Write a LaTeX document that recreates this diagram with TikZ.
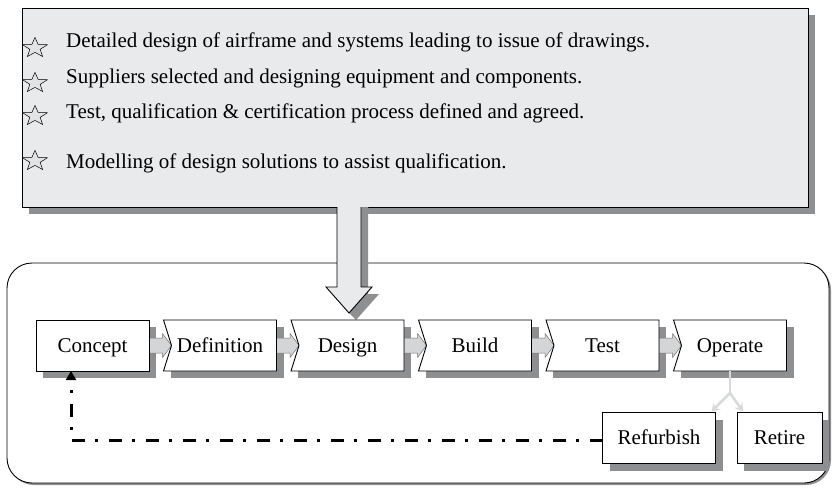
\documentclass[tikz,border=0pt]{standalone}
\usepackage{fontspec}
\setmainfont{Liberation Serif}
\usetikzlibrary{arrows.meta,calc}
\definecolor{shadowc}{HTML}{8E8F91}
\definecolor{panelc}{HTML}{E9EAEC}
\definecolor{conc}{HTML}{D4D5D7}
\definecolor{splitc}{HTML}{D8D9DA}
\definecolor{starc}{HTML}{E2E3E5}
\pgfdeclarelayer{frame}
\pgfdeclarelayer{shadows}
\pgfdeclarelayer{links}
\pgfdeclarelayer{boxes}
\pgfsetlayers{frame,shadows,links,boxes,main}
\begin{document}
\begin{tikzpicture}[x=1pt,y=-1pt,
 stage/.style={minimum width=113pt, minimum height=51pt, inner sep=0pt, outer sep=0pt, text height=17pt, text depth=4pt, font=\fontsize{21}{25}\selectfont},
 boxline/.style={draw=black, line width=0.9pt, fill=white, line join=miter},
 bullet/.style={anchor=base west, font=\fontsize{21}{25}\selectfont, inner sep=0pt},
 starsty/.style={draw=black, line width=0.5pt, fill=starc, line join=miter},
 link/.style={draw=black!55, line width=0.5pt, fill=conc},
 splitline/.style={draw=splitc, line width=2.5pt},
 splithead/.style={splitline, -{Stealth[length=8pt,width=10pt,inset=3pt]}},
 feedback/.style={line width=3pt, dash pattern=on 13pt off 11pt on 3pt off 10pt, -{Triangle[length=9pt,width=10pt]}}
]
\useasboundingbox (0,0) rectangle (832,487);

% nodes
\node[minimum width=786pt, minimum height=199pt, inner sep=0pt, outer sep=0pt] (info) at (415,107.5) {};
\node[stage] (concept) at (92.5,345.5) {Concept};
\node[stage] (definition) at (220,345.5) {Definition};
\node[stage] (design) at (347.5,345.5) {Design};
\node[stage] (build) at (475,345.5) {Build};
\node[stage] (test) at (602.5,345.5) {Test};
\node[stage] (operate) at (730,345.5) {Operate};
\node[stage] (refurbish) at (659,438) {Refurbish};
\node[stage, minimum width=85pt] (retire) at (779.5,438) {Retire};

\node[bullet] (t1) at (66,48) {Detailed design of airframe and systems leading to issue of drawings.};
\node[bullet] (t2) at (66,83) {Suppliers selected and designing equipment and components.};
\node[bullet] (t3) at (66,118) {Test, qualification \& certification process defined and agreed.};
\node[bullet] (t4) at (66,168) {Modelling of design solutions to assist qualification.};

\begin{pgfonlayer}{frame}
 \fill[shadowc, rounded corners=25pt] (9,265) rectangle (831,485);
 \draw[fill=white, line width=0.9pt, rounded corners=25pt] (7,263) rectangle (829,483);
 \fill[shadowc] ([shift={(7,7)}]info.north west) rectangle ([shift={(7,7)}]info.south east);
 \draw[fill=panelc, line width=0.9pt] (info.north west) rectangle (info.south east);
 % big arrow
 \fill[shadowc] (344,207) -- (368,207) -- (368,294) -- (379,294) -- (356,320) -- (349,313) -- (344,294) -- cycle;
 \draw[fill=panelc, line width=0.9pt, line join=miter] (337,207) -- (337,287) -- (326,287) -- (349,313) -- (372,287) -- (361,287) -- (361,207);
\end{pgfonlayer}

% stars
\foreach \cy in {48,83,116,161}{
 \begin{scope}[shift={(35,\cy)}]
  \draw[starsty] ({13*cos(270)},{10.5*sin(270)}) -- ({5.4*cos(306)},{4.4*sin(306)})
   -- ({13*cos(342)},{10.5*sin(342)}) -- ({5.4*cos(18)},{4.4*sin(18)})
   -- ({13*cos(54)},{10.5*sin(54)}) -- ({5.4*cos(90)},{4.4*sin(90)})
   -- ({13*cos(126)},{10.5*sin(126)}) -- ({5.4*cos(162)},{4.4*sin(162)})
   -- ({13*cos(198)},{10.5*sin(198)}) -- ({5.4*cos(234)},{4.4*sin(234)}) -- cycle;
 \end{scope}
}

\begin{pgfonlayer}{shadows}
 \foreach \n in {concept,definition,design,build,test,operate,refurbish,retire}
  \fill[shadowc] ([shift={(7,7)}]\n.north west) rectangle ([shift={(7,7)}]\n.south east);
\end{pgfonlayer}

\begin{pgfonlayer}{links}
 \foreach \a/\b in {concept/definition,definition/design,design/build,build/test,test/operate}
  \draw[link] ([yshift=7.5pt]\a.east) -- ([xshift=-1pt,yshift=7.5pt]\b.west) -- ([xshift=-1pt,yshift=12pt]\b.west)
   -- ([xshift=8pt]\b.west) -- ([xshift=-1pt,yshift=-12pt]\b.west) -- ([xshift=-1pt,yshift=-7.5pt]\b.west)
   -- ([yshift=-7.5pt]\a.east) -- cycle;
\end{pgfonlayer}

\begin{pgfonlayer}{boxes}
 \foreach \n in {concept,refurbish,retire}
  \draw[boxline] (\n.north west) rectangle (\n.south east);
 \foreach \n in {definition,design,build,test,operate}
  \draw[boxline] (\n.north west) -- (\n.north east) -- (\n.south east) -- (\n.south west) -- ([xshift=8pt]\n.west) -- cycle;
\end{pgfonlayer}

% split arrow
\coordinate (fork) at ([yshift=-22pt]operate.south);
\draw[splitline] (operate.south) -- (fork);
\draw[splithead] (fork) -- ([xshift=-4pt,yshift=1pt]refurbish.north east);
\draw[splithead] (fork) -- ([xshift=6pt,yshift=1pt]retire.north west);

% feedback
\coordinate (feedx) at ([xshift=35pt]concept.south west);
\draw[feedback] ([yshift=-2pt]refurbish.west) -| (feedx);
\end{tikzpicture}
\end{document}
